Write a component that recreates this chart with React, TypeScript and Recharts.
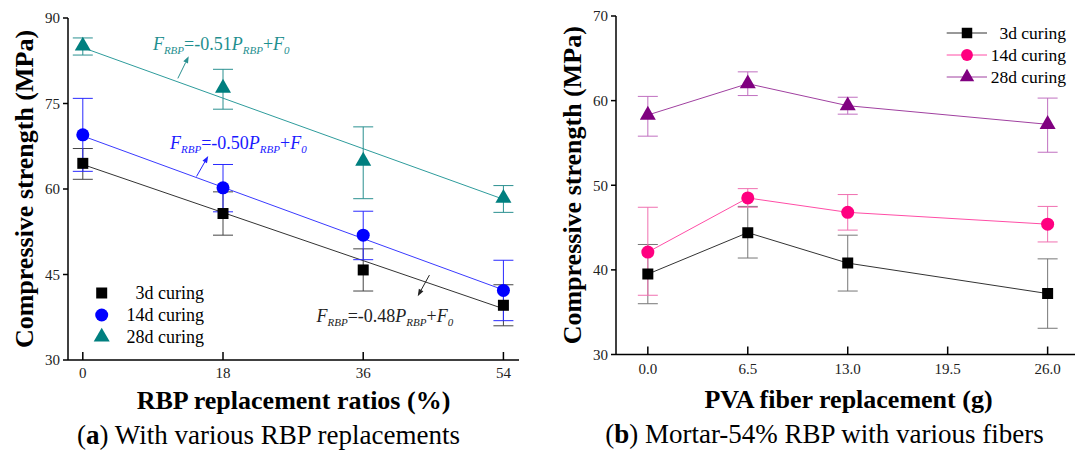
import React from 'react';
import {
  ComposedChart,
  Line,
  XAxis,
  YAxis,
  ErrorBar,
  ReferenceDot,
  ReferenceLine,
  Legend,
  Symbols,
} from 'recharts';

const SERIF = '"Liberation Serif", "Times New Roman", serif';

const curingLabels = ['3d curing', '14d curing', '28d curing'];

// (a) compressive strength vs RBP replacement ratio (%)
const rbpRatios = [0, 18, 36, 54];
const rbp3d = [64.5, 55.7, 45.8, 39.6];
const rbp3dLow = [61.7, 51.9, 42.1, 36.0];
const rbp3dHigh = [67.1, 59.5, 49.5, 43.2];
const rbp14d = [69.5, 60.2, 51.9, 42.2];
const rbp14dLow = [63.1, 56.0, 47.6, 36.9];
const rbp14dHigh = [75.9, 64.3, 56.1, 47.5];
const rbp28d = [85.1, 77.7, 64.9, 58.4];
const rbp28dLow = [83.5, 74.0, 58.3, 55.9];
const rbp28dHigh = [86.5, 81.0, 70.9, 60.6];

// linear fits, evaluated at 0 % and 54 %
const fitX = [0, 54];
const fit3d = [64.3, 39.0];
const fit14d = [69.3, 42.3];
const fit28d = [84.8, 58.2];

const rbpTicksX = [0, 18, 36, 54];
const rbpTicksY = [30, 45, 60, 75, 90];

// (b) compressive strength vs PVA fiber content (g)
const pvaContents = [0, 6.5, 13, 26];
const pva3d = [39.5, 44.4, 40.8, 37.2];
const pva3dLow = [36.0, 41.4, 37.5, 33.1];
const pva3dHigh = [43.0, 47.5, 44.1, 41.3];
const pva14d = [42.1, 48.5, 46.8, 45.4];
const pva14dLow = [37.0, 47.4, 44.7, 43.3];
const pva14dHigh = [47.4, 49.6, 48.9, 47.5];
const pva28d = [58.3, 62.0, 59.4, 57.2];
const pva28dLow = [55.8, 60.6, 58.4, 53.9];
const pva28dHigh = [60.5, 63.4, 60.4, 60.3];

const pvaTicksX = [0, 6.5, 13, 19.5, 26];
const pvaTicksY = [30, 40, 50, 60, 70];

const withErr = (xs: number[], ys: number[], lo: number[], hi: number[]) =>
  xs.map((x, i) => ({ x, y: ys[i], err: [ys[i] - lo[i], hi[i] - ys[i]] }));

const pairs = (xs: number[], ys: number[]) => xs.map((x, i) => ({ x, y: ys[i] }));

const marker = (type: any, size: number, fill: string) => (props: any) => {
  const { cx, cy, index } = props;
  if (cx == null || cy == null) return <g key={index} />;
  return <Symbols key={index} cx={cx} cy={cy} type={type} size={size} fill={fill} stroke="none" />;
};

const Arrow = (props: any) => {
  const { x1, y1, x2, y2, color } = props;
  const a = Math.atan2(y2 - y1, x2 - x1);
  const len = 7;
  const half = 2.6;
  const bx = x2 - len * Math.cos(a);
  const by = y2 - len * Math.sin(a);
  const pts = [
    [x2, y2],
    [bx + half * Math.sin(a), by - half * Math.cos(a)],
    [bx - half * Math.sin(a), by + half * Math.cos(a)],
  ]
    .map(p => p.join(','))
    .join(' ');
  return (
    <g>
      <line x1={x1} y1={y1} x2={bx} y2={by} stroke={color} strokeWidth={1} />
      <polygon points={pts} fill={color} />
    </g>
  );
};

const Equation = ({ cx, cy, color, slope }: any) => (
  <text x={cx} y={cy} fill={color} fontFamily={SERIF} fontSize={18}>
    <tspan fontStyle="italic">F</tspan>
    <tspan fontStyle="italic" fontSize={11} dy={4}>RBP</tspan>
    <tspan dy={-4}>={slope}</tspan>
    <tspan fontStyle="italic">P</tspan>
    <tspan fontStyle="italic" fontSize={11} dy={4}>RBP</tspan>
    <tspan dy={-4}>+</tspan>
    <tspan fontStyle="italic">F</tspan>
    <tspan fontStyle="italic" fontSize={11} dy={4}>0</tspan>
  </text>
);

const yTitle = (dx: number) => (p: any) => {
  const vb = p.viewBox;
  const x = vb.x + dx;
  const y = vb.y + vb.height / 2;
  return (
    <text
      x={x}
      y={y}
      transform={`rotate(-90 ${x} ${y})`}
      textAnchor="middle"
      dominantBaseline="central"
      fontFamily={SERIF}
      fontWeight="bold"
      fontSize={26}
      fill="#000"
    >
      Compressive strength (MPa)
    </text>
  );
};

const xTitle = (title: string, letter: string, caption: string, t: number[]) => (p: any) => {
  const vb = p.viewBox;
  const cx = vb.x + vb.width / 2;
  return (
    <g fontFamily={SERIF} fill="#000">
      <text x={cx + t[0]} y={vb.y + t[1]} textAnchor="middle" dominantBaseline="central" fontWeight="bold" fontSize={26}>
        {title}
      </text>
      <text x={cx + t[2]} y={vb.y + t[3]} textAnchor="middle" dominantBaseline="central" fontSize={27}>
        (<tspan fontWeight="bold">{letter}</tspan>){caption}
      </text>
    </g>
  );
};

const axisStroke = { stroke: '#000', strokeWidth: 1.5 };
const tickStyle = { fontFamily: SERIF, fontSize: 15, fill: '#222' };

const legendA = [
  { type: 'square', size: 121, fill: '#000' },
  { type: 'circle', size: 133, fill: '#0000ff' },
  { type: 'triangle', size: 111, fill: '#007f7f' },
];

const LegendA = () => (
  <svg width={140} height={70}>
    {legendA.map((s, i) => (
      <g key={i}>
        <Symbols cx={21.7} cy={13 + 22 * i} type={s.type as any} size={s.size} fill={s.fill} />
        <text x={124} y={13 + 22 * i} textAnchor="end" dominantBaseline="central" fontFamily={SERIF} fontSize={18} fill="#000">
          {curingLabels[i]}
        </text>
      </g>
    ))}
  </svg>
);

const legendB = [
  { type: 'square', size: 110, fill: '#000', line: '#333' },
  { type: 'circle', size: 110, fill: '#ff0080', line: '#ff4da6' },
  { type: 'triangle', size: 90, fill: '#800080', line: '#a040a0' },
];

const LegendB = () => (
  <svg width={135} height={70}>
    {legendB.map((s, i) => (
      <g key={i}>
        <line x1={6.7} x2={47} y1={13 + 22 * i} y2={13 + 22 * i} stroke={s.line} strokeWidth={1} />
        <Symbols cx={27} cy={13 + 22 * i} type={s.type as any} size={s.size} fill={s.fill} />
        <text x={126} y={13 + 22 * i} textAnchor="end" dominantBaseline="central" fontFamily={SERIF} fontSize={17.5} fill="#000">
          {curingLabels[i]}
        </text>
      </g>
    ))}
  </svg>
);

function ChartA() {
  return (
    <ComposedChart width={540} height={451} margin={{ top: 18, right: 21, left: 0, bottom: 61 }}>
      <XAxis
        type="number"
        dataKey="x"
        domain={[-1.9, 56]}
        ticks={rbpTicksX}
        allowDataOverflow
        tick={tickStyle}
        axisLine={axisStroke}
        tickLine={axisStroke}
        tickSize={-8}
        tickMargin={15}
        height={30}
        label={xTitle('RBP replacement ratios (%)', 'a', ' With various RBP replacements', [0, 40, -25, 75])}
      />
      <XAxis xAxisId="top" orientation="top" type="number" domain={[-1.9, 56]} tick={false} tickLine={false} axisLine={axisStroke} height={0} />
      <YAxis
        type="number"
        domain={[30, 90]}
        ticks={rbpTicksY}
        allowDataOverflow
        tick={tickStyle}
        axisLine={axisStroke}
        tickLine={axisStroke}
        tickSize={5}
        tickMargin={3}
        width={68}
        label={yTitle(24)}
      />
      <YAxis yAxisId="right" orientation="right" type="number" domain={[30, 90]} tick={false} tickLine={false} axisLine={axisStroke} width={0} />

      <Line data={pairs(fitX, fit3d)} dataKey="y" stroke="#333" strokeWidth={1} dot={false} activeDot={false} isAnimationActive={false} />
      <Line data={pairs(fitX, fit14d)} dataKey="y" stroke="#3a3aff" strokeWidth={1} dot={false} activeDot={false} isAnimationActive={false} />
      <Line data={pairs(fitX, fit28d)} dataKey="y" stroke="#2e9c9c" strokeWidth={1} dot={false} activeDot={false} isAnimationActive={false} />

      <Line data={withErr(rbpRatios, rbp3d, rbp3dLow, rbp3dHigh)} dataKey="y" stroke="none" dot={marker('square', 121, '#000')} activeDot={false} isAnimationActive={false}>
        <ErrorBar dataKey="err" direction="y" width={10} stroke="#444" strokeWidth={1} />
      </Line>
      <Line data={withErr(rbpRatios, rbp14d, rbp14dLow, rbp14dHigh)} dataKey="y" stroke="none" dot={marker('circle', 133, '#0000ff')} activeDot={false} isAnimationActive={false}>
        <ErrorBar dataKey="err" direction="y" width={10} stroke="#2a2aff" strokeWidth={1} />
      </Line>
      <Line data={withErr(rbpRatios, rbp28d, rbp28dLow, rbp28dHigh)} dataKey="y" stroke="none" dot={marker('triangle', 111, '#007f7f')} activeDot={false} isAnimationActive={false}>
        <ErrorBar dataKey="err" direction="y" width={10} stroke="#2a9090" strokeWidth={1} />
      </Line>

      <ReferenceLine segment={[{ x: 12.2, y: 79.4 }, { x: 13.6, y: 83.3 }]} shape={(p: any) => <Arrow {...p} color="#2a9090" />} />
      <ReferenceLine segment={[{ x: 14.6, y: 62.2 }, { x: 16.1, y: 65.8 }]} shape={(p: any) => <Arrow {...p} color="#2020ff" />} />
      <ReferenceLine segment={[{ x: 44.5, y: 44.9 }, { x: 43.0, y: 41.2 }]} shape={(p: any) => <Arrow {...p} color="#222" />} />

      <ReferenceDot x={9.0} y={84.4} r={1} shape={(p: any) => <Equation {...p} color="#1f8f8f" slope="-0.51" />} />
      <ReferenceDot x={11.2} y={67.1} r={1} shape={(p: any) => <Equation {...p} color="#1a1aff" slope="-0.50" />} />
      <ReferenceDot x={30.0} y={36.6} r={1} shape={(p: any) => <Equation {...p} color="#222" slope="-0.48" />} />

      <Legend
        content={LegendA}
        layout="vertical"
        align="center"
        verticalAlign="middle"
        wrapperStyle={{ left: 80, top: 280, width: 140, height: 70 }}
      />
    </ComposedChart>
  );
}

function ChartB() {
  return (
    <ComposedChart width={535} height={451} margin={{ top: 16, right: 0, left: 0, bottom: 66.5 }}>
      <XAxis
        type="number"
        dataKey="x"
        domain={[-2.07, 27.78]}
        ticks={pvaTicksX}
        allowDataOverflow
        tickFormatter={(v: number) => v.toFixed(1)}
        tick={tickStyle}
        axisLine={axisStroke}
        tickLine={axisStroke}
        tickSize={-8}
        tickMargin={17}
        height={30}
        label={xTitle('PVA fiber replacement (g)', 'b', ' Mortar-54% RBP with various fibers', [3, 44.5, -21, 79.5])}
      />
      <XAxis xAxisId="top" orientation="top" type="number" domain={[-2.07, 27.78]} tick={false} tickLine={false} axisLine={axisStroke} height={0} />
      <YAxis
        type="number"
        domain={[30, 70]}
        ticks={pvaTicksY}
        allowDataOverflow
        tick={tickStyle}
        axisLine={axisStroke}
        tickLine={axisStroke}
        tickSize={5}
        tickMargin={3}
        width={76}
        label={yTitle(32)}
      />

      <Line data={withErr(pvaContents, pva3d, pva3dLow, pva3dHigh)} dataKey="y" stroke="#333" strokeWidth={1} dot={marker('square', 121, '#000')} activeDot={false} isAnimationActive={false}>
        <ErrorBar dataKey="err" direction="y" width={10} stroke="#777" strokeWidth={1} />
      </Line>
      <Line data={withErr(pvaContents, pva14d, pva14dLow, pva14dHigh)} dataKey="y" stroke="#ff4da6" strokeWidth={1} dot={marker('circle', 133, '#ff0080')} activeDot={false} isAnimationActive={false}>
        <ErrorBar dataKey="err" direction="y" width={10} stroke="#f070b0" strokeWidth={1} />
      </Line>
      <Line data={withErr(pvaContents, pva28d, pva28dLow, pva28dHigh)} dataKey="y" stroke="#a040a0" strokeWidth={1} dot={marker('triangle', 111, '#800080')} activeDot={false} isAnimationActive={false}>
        <ErrorBar dataKey="err" direction="y" width={10} stroke="#c070c0" strokeWidth={1} />
      </Line>

      <Legend
        content={LegendB}
        layout="vertical"
        align="center"
        verticalAlign="middle"
        wrapperStyle={{ left: 400, top: 20, width: 135, height: 70 }}
      />
    </ComposedChart>
  );
}

export default function App() {
  return (
    <div style={{ position: 'absolute', left: 0, top: 0, width: 1075, height: 451, background: '#fff', overflow: 'hidden' }}>
      <div style={{ position: 'absolute', left: 0, top: 0 }}>
        <ChartA />
      </div>
      <div style={{ position: 'absolute', left: 540, top: 0 }}>
        <ChartB />
      </div>
    </div>
  );
}
